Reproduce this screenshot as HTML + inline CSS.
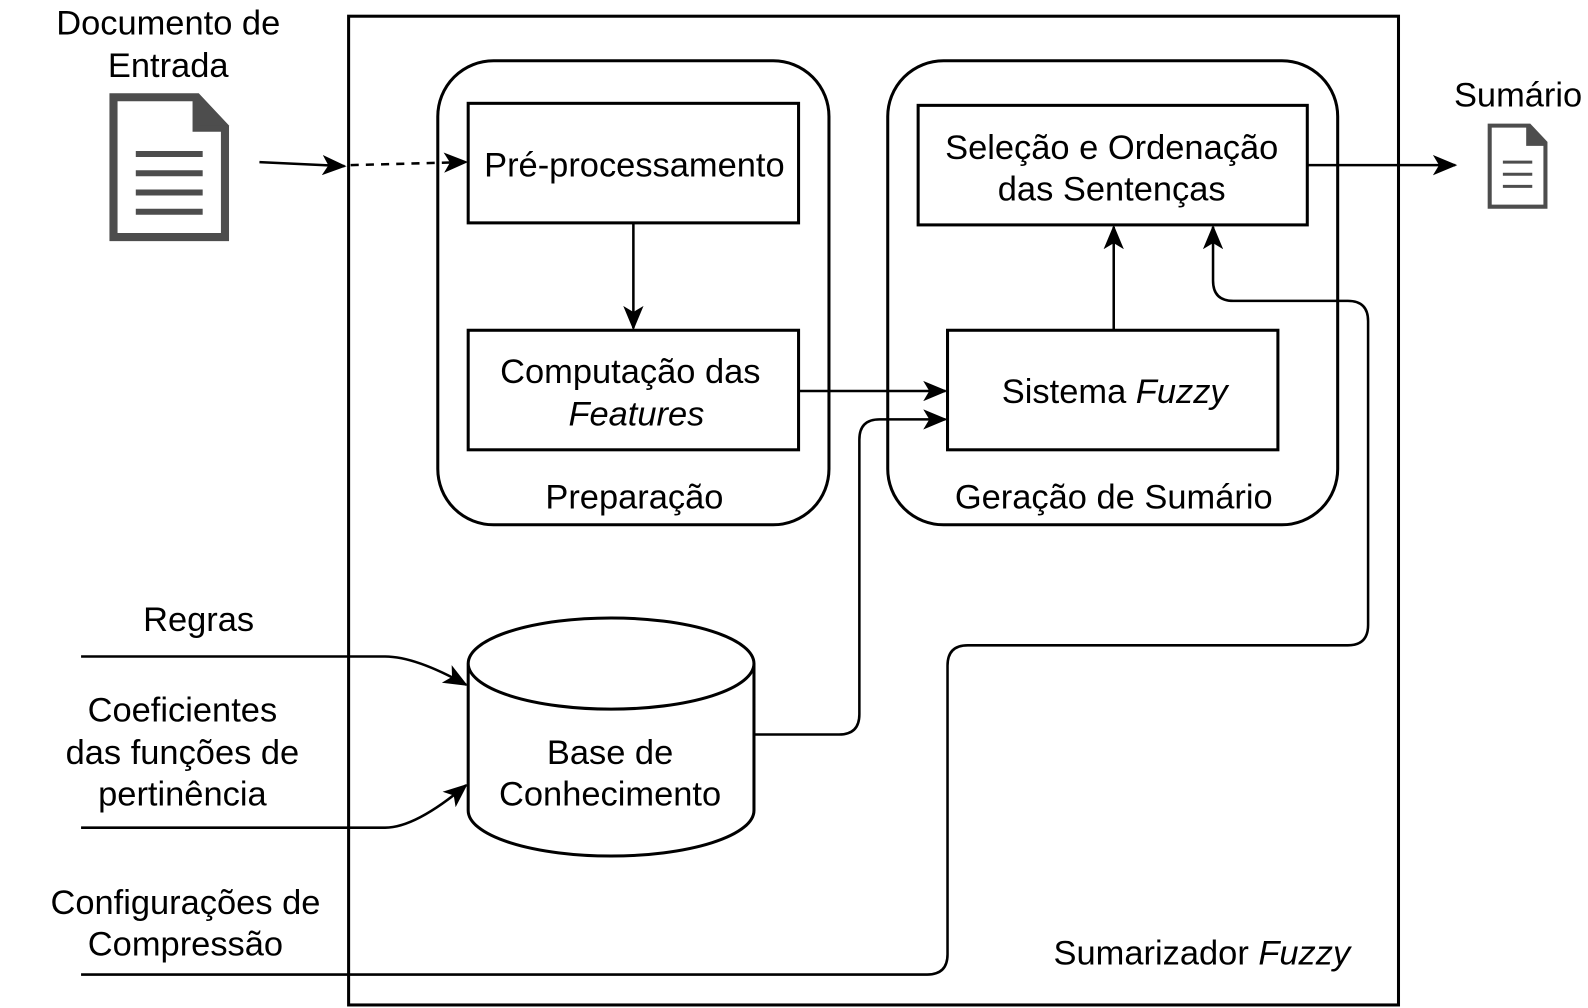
<!DOCTYPE html>
<html><head><meta charset="utf-8"><style>
html,body{margin:0;padding:0;background:#fff;width:1588px;height:1008px;overflow:hidden;}
svg{display:block;}
svg text{font-family:"Liberation Sans",sans-serif;font-size:34px;fill:#000;}
</style></head><body>
<svg width="1588" height="1008" viewBox="0 0 1567 995" preserveAspectRatio="none" xmlns="http://www.w3.org/2000/svg">
<defs>
<marker id="b" viewBox="0 0 24 20" markerWidth="24" markerHeight="20" refX="22" refY="10" orient="auto" markerUnits="userSpaceOnUse">
<path d="M0,0 L24,10 L0,20 L6,10 Z" fill="#000"/>
</marker>
</defs>
<g fill="none" stroke="#000" stroke-width="3">
<rect x="344" y="16" width="1036" height="976"/>
<rect x="432" y="60" width="386" height="458" rx="55"/>
<rect x="876" y="60" width="444" height="458" rx="55"/>
<rect x="462" y="102" width="326" height="118"/>
<rect x="462" y="326" width="326" height="118"/>
<rect x="906" y="104" width="384" height="118"/>
<rect x="935" y="326" width="326" height="118"/>
<path d="M462,655 L462,800 A141,45 0 0 0 744,800 L744,655 A141,45 0 0 0 462,655 A141,45 0 0 0 744,655"/>
</g>
<g fill="none" stroke="#000" stroke-width="2.5">
<path d="M256,160 L340,164" marker-end="url(#b)"/>
<path d="M346,163 L460,160" stroke-dasharray="8,7" marker-end="url(#b)"/>
<path d="M625,220 L625,324" marker-end="url(#b)"/>
<path d="M788,386 L933,386" marker-end="url(#b)"/>
<path d="M744,725 L828,725 Q848,725 848,705 L848,434 Q848,414 868,414 L933,414" marker-end="url(#b)"/>
<path d="M1099,326 L1099,224" marker-end="url(#b)"/>
<path d="M1290,163 L1436,163" marker-end="url(#b)"/>
<path d="M80,962 L915,962 Q935,962 935,942 L935,657 Q935,637 955,637 L1330,637 Q1350,637 1350,617 L1350,317 Q1350,297 1330,297 L1217,297 Q1197,297 1197,277 L1197,224" marker-end="url(#b)"/>
<path d="M80,648 L380,648 Q410,648 460,676" marker-end="url(#b)"/>
<path d="M80,817 L380,817 Q410,817 460,775" marker-end="url(#b)"/>
</g>
<path d="M108,92 L196,92 L226,124 L226,238 L108,238 Z" fill="#4d4d4d"/>
<path d="M116,100 L190,100 L190,130 L218,130 L218,230 L116,230 Z" fill="#fff"/>
<path d="M196,92 L226,124 L196,124 Z" fill="#4d4d4d"/>
<g stroke="#4d4d4d" stroke-width="6"><line x1="134" y1="152" x2="200" y2="152"/><line x1="134" y1="171" x2="200" y2="171"/><line x1="134" y1="190" x2="200" y2="190"/><line x1="134" y1="209" x2="200" y2="209"/></g>
<path d="M1468,122 L1510,122 L1527,140 L1527,206 L1468,206 Z" fill="#4d4d4d"/>
<path d="M1472,126 L1506,126 L1506,144 L1523,144 L1523,202 L1472,202 Z" fill="#fff"/>
<g stroke="#4d4d4d" stroke-width="3"><line x1="1483" y1="160" x2="1512" y2="160"/><line x1="1483" y1="172" x2="1512" y2="172"/><line x1="1483" y1="184" x2="1512" y2="184"/></g>
<g text-anchor="middle">
<text x="166" y="34">Documento de</text>
<text x="166" y="76">Entrada</text>
<text x="1498" y="105">Sumário</text>
<text x="626" y="174">Pré-processamento</text>
<text x="622" y="378">Computação das</text>
<text x="628" y="420" font-style="italic">Features</text>
<text x="626" y="502">Preparação</text>
<text x="1097" y="157">Seleção e Ordenação</text>
<text x="1097" y="198">das Sentenças</text>
<text x="1100" y="398">Sistema <tspan font-style="italic">Fuzzy</tspan></text>
<text x="1099" y="502">Geração de Sumário</text>
<text x="196" y="623">Regras</text>
<text x="180" y="712">Coeficientes</text>
<text x="180" y="754">das funções de</text>
<text x="180" y="795">pertinência</text>
<text x="602" y="754">Base de</text>
<text x="602" y="795">Conhecimento</text>
<text x="183" y="902">Configurações de</text>
<text x="183" y="943">Compressão</text>
<text x="1186" y="952">Sumarizador <tspan font-style="italic">Fuzzy</tspan></text>
</g>
</svg>
</body></html>
